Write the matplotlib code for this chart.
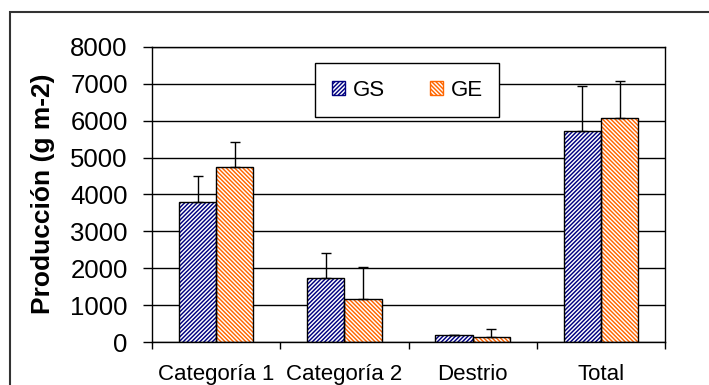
import matplotlib
matplotlib.use("Agg")
import matplotlib.pyplot as plt
import numpy as np
from matplotlib.patches import Patch, Rectangle

plt.rcParams['font.family'] = ['Liberation Sans', 'DejaVu Sans']
plt.rcParams['hatch.linewidth'] = 1.05

categories = ["Categoría 1", "Categoría 2", "Destrio", "Total"]
gs_values = [3790, 1750, 195, 5710]
ge_values = [4740, 1165, 150, 6060]
gs_err = [720, 675, 10, 1215]
ge_err = [675, 880, 200, 1020]
series_names = ["GS", "GE"]
yticks = [0, 1000, 2000, 3000, 4000, 5000, 6000, 7000, 8000]

GS_COLOR = "#000080"
GE_COLOR = "#FF6600"
GS_HATCH = "/" * 8
GE_HATCH = "\\" * 8

fig = plt.figure(figsize=(7.09, 3.85), dpi=100)
ax = fig.add_axes([0.2144, 0.111, 0.7236, 0.7678])

x = np.arange(len(categories))
w = 0.29

# hatched fill, then black outline on top
ax.bar(x - w/2, gs_values, w, facecolor="white", edgecolor=GS_COLOR,
       hatch=GS_HATCH, linewidth=0, zorder=2)
ax.bar(x + w/2, ge_values, w, facecolor="white", edgecolor=GE_COLOR,
       hatch=GE_HATCH, linewidth=0, zorder=2)
ax.bar(x - w/2, gs_values, w, fill=False, edgecolor="black", linewidth=1, zorder=3)
ax.bar(x + w/2, ge_values, w, fill=False, edgecolor="black", linewidth=1, zorder=3)

zeros = np.zeros(len(categories))
ax.errorbar(x - w/2, gs_values, yerr=[zeros, gs_err], fmt="none", ecolor="black",
            elinewidth=1, capsize=3.6, capthick=1, zorder=4)
ax.errorbar(x + w/2, ge_values, yerr=[zeros, ge_err], fmt="none", ecolor="black",
            elinewidth=1, capsize=3.6, capthick=1, zorder=4)

ax.set_xlim(-0.5, len(categories) - 0.5)
ax.set_ylim(0, 8000)
ax.set_yticks(yticks)
ax.yaxis.grid(True, color="black", linewidth=1)
ax.set_axisbelow(True)

ax.set_xticks(x)
ax.set_xticklabels(categories, fontsize=16)
ax.set_xticks(np.arange(len(categories) + 1) - 0.5, minor=True)
ax.tick_params(axis="x", which="major", length=0, pad=16)
ax.tick_params(axis="x", which="minor", length=5, width=1, direction="out")
ax.tick_params(axis="y", length=6.5, width=1, direction="out", labelsize=18.5, pad=11)

for s in ax.spines.values():
    s.set_color("black")
    s.set_linewidth(1)

ax.set_ylabel("Producción (g m-2)", fontsize=19, fontweight="bold")
ax.yaxis.set_label_coords(-0.19, 0.503)

handles = [Patch(facecolor="white", edgecolor=GS_COLOR, hatch=GS_HATCH, label=series_names[0]),
           Patch(facecolor="white", edgecolor=GE_COLOR, hatch=GE_HATCH, label=series_names[1])]
leg = ax.legend(handles=handles, ncol=2, loc="upper left", bbox_to_anchor=(0.318, 0.945),
                fontsize=16, frameon=True, fancybox=False, framealpha=1,
                edgecolor="black", handlelength=0.6, handleheight=0.6,
                handletextpad=0.35, columnspacing=2.0, borderpad=0.75, borderaxespad=0)
leg.get_frame().set_linewidth(1)
leg.set_zorder(5)

# outer chart frame
fig.patches.append(Rectangle((10/709, -0.1), 1.2, 1.1 - 12/385,
                             transform=fig.transFigure, fill=False,
                             edgecolor="#333333", linewidth=1.5, figure=fig))

fig.savefig("out.png", dpi=100)
